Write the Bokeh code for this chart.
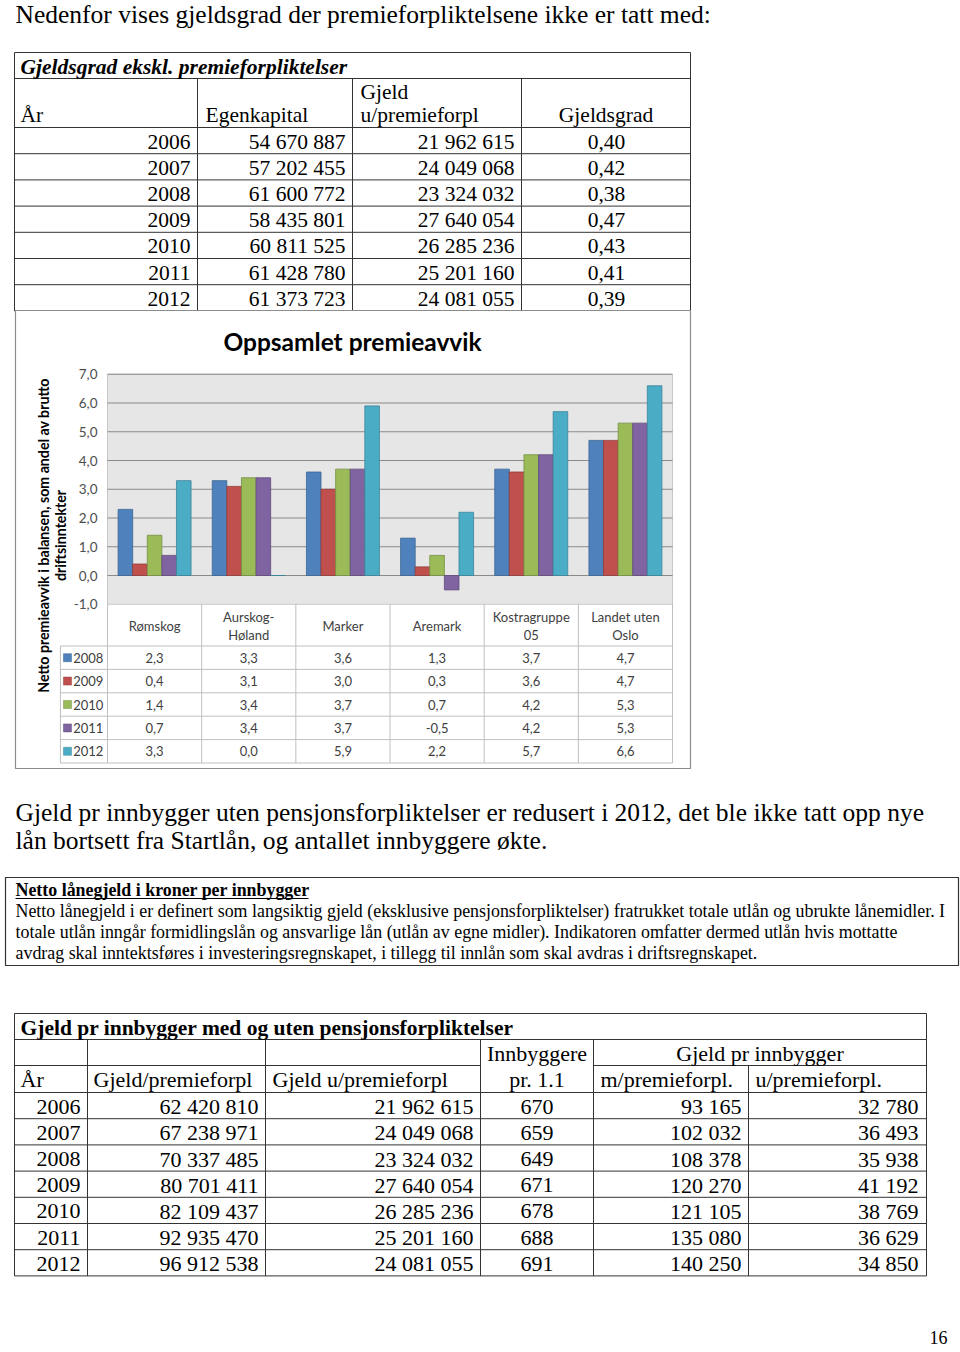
import math
from bokeh.plotting import figure
from bokeh.models import Range1d, ColumnDataSource
from bokeh.core.properties import value
from bokeh.embed import file_html
from bokeh.resources import INLINE

# ---------------- data ----------------
intro_text = "Nedenfor vises gjeldsgrad der premieforpliktelsene ikke er tatt med:"

t1_title = "Gjeldsgrad ekskl. premieforpliktelser"
t1_years = [2006, 2007, 2008, 2009, 2010, 2011, 2012]
t1_egenkapital = [54670887, 57202455, 61600772, 58435801, 60811525, 61428780, 61373723]
t1_gjeld = [21962615, 24049068, 23324032, 27640054, 26285236, 25201160, 24081055]
t1_gjeldsgrad = [0.40, 0.42, 0.38, 0.47, 0.43, 0.41, 0.39]

chart_title = "Oppsamlet premieavvik"
y_title_lines = ["Netto premieavvik i balansen, som andel av brutto", "driftsinntekter"]
categories = ["Rømskog", "Aurskog-Høland", "Marker", "Aremark", "Kostragruppe 05", "Landet uten Oslo"]
cat_line1 = ["Rømskog", "Aurskog-", "Marker", "Aremark", "Kostragruppe", "Landet uten"]
cat_line2 = ["", "Høland", "", "", "05", "Oslo"]
series_names = ["2008", "2009", "2010", "2011", "2012"]
v2008 = [2.3, 3.3, 3.6, 1.3, 3.7, 4.7]
v2009 = [0.4, 3.1, 3.0, 0.3, 3.6, 4.7]
v2010 = [1.4, 3.4, 3.7, 0.7, 4.2, 5.3]
v2011 = [0.7, 3.4, 3.7, -0.5, 4.2, 5.3]
v2012 = [3.3, 0.0, 5.9, 2.2, 5.7, 6.6]
y_ticks = [-1, 0, 1, 2, 3, 4, 5, 6, 7]
series_colors = ["#4F81BD", "#C0504D", "#9BBB59", "#8064A2", "#4BACC6"]
series_edges = ["#3A6493", "#923B39", "#758F43", "#5F4A7A", "#3A8499"]

para_lines = [
    "Gjeld pr innbygger uten pensjonsforpliktelser er redusert i 2012, det ble ikke tatt opp nye",
    "lån bortsett fra Startlån, og antallet innbyggere økte.",
]
box_title = "Netto lånegjeld i kroner per innbygger"
box_lines = [
    "Netto lånegjeld i er definert som langsiktig gjeld (eksklusive pensjonsforpliktelser) fratrukket totale utlån og ubrukte lånemidler. I",
    "totale utlån inngår formidlingslån og ansvarlige lån (utlån av egne midler). Indikatoren omfatter dermed utlån hvis mottatte",
    "avdrag skal inntektsføres i investeringsregnskapet, i tillegg til innlån som skal avdras i driftsregnskapet.",
]

t2_title = "Gjeld pr innbygger med og uten pensjonsforpliktelser"
t2_years = [2006, 2007, 2008, 2009, 2010, 2011, 2012]
t2_gjeld_m = [62420810, 67238971, 70337485, 80701411, 82109437, 92935470, 96912538]
t2_gjeld_u = [21962615, 24049068, 23324032, 27640054, 26285236, 25201160, 24081055]
t2_innb = [670, 659, 649, 671, 678, 688, 691]
t2_per_m = [93165, 102032, 108378, 120270, 121105, 135080, 140250]
t2_per_u = [32780, 36493, 35938, 41192, 38769, 36629, 34850]
page_number = "16"


def nok(v):
    return f"{v:,}".replace(",", " ")


def dec(v, n):
    s = f"{v:.{n}f}".replace(".", ",")
    return "0,0" if s == "-0,0" else s


# ---------------- figure (page coordinates) ----------------
W, H = 960, 1352
p = figure(width=W, height=H, x_range=Range1d(0, W), y_range=Range1d(H, 0),
           x_axis_location=None, y_axis_location=None, min_border=0,
           toolbar_location=None, output_backend="svg", outline_line_color=None,
           background_fill_color="white", border_fill_color="white")
p.grid.visible = False

SERIF = "Liberation Serif"
SANS = "Lato"


def txt(x, y, texts, size, font=SERIF, align="left", style="normal", color="#000000",
        angle=0.0, xr="default", yr="default"):
    src = ColumnDataSource(dict(x=list(x), y=list(y), t=list(texts)))
    p.text(x="x", y="y", text="t", source=src, text_font=value(font),
           text_font_size=f"{size}px", text_align=align, text_baseline="middle",
           text_font_style=style, text_color=color, angle=angle,
           x_range_name=xr, y_range_name=yr)


def hlines(y, x0, x1, color="#333333", width=1.0, xr="default", yr="default"):
    p.segment(x0=list(x0), y0=list(y), x1=list(x1), y1=list(y), line_color=color,
              line_width=width, x_range_name=xr, y_range_name=yr)


def vlines(x, y0, y1, color="#333333", width=1.0, xr="default", yr="default"):
    p.segment(x0=list(x), y0=list(y0), x1=list(x), y1=list(y1), line_color=color,
              line_width=width, x_range_name=xr, y_range_name=yr)


# ---- intro line ----
txt([15], [14], [intro_text], 25.5)

# ---- table 1 ----
c1 = [14, 197, 352, 521, 690]
t1_top, t1_tb, t1_hb, rh = 52, 78, 127, 26.2
n1 = len(t1_years)
row_b = [t1_hb + (i + 1) * rh for i in range(n1)]
t1_bot = row_b[-1]
hl_y = [t1_top, t1_tb, t1_hb] + row_b
hlines(hl_y, [c1[0]] * len(hl_y), [c1[-1]] * len(hl_y))
vlines([c1[0], c1[-1]], [t1_top] * 2, [t1_bot] * 2)
vlines(c1[1:-1], [t1_tb] * 3, [t1_bot] * 3)
txt([20], [(t1_top + t1_tb) / 2 + 1], [t1_title], 21.5, style="bold italic")
txt([20, 205, 360, 360], [114, 114, 91, 114], ["År", "Egenkapital", "Gjeld", "u/premieforpl"], 21.5)
txt([(c1[3] + c1[4]) / 2], [114], ["Gjeldsgrad"], 21.5, align="center")
ry1 = [t1_hb + (i + 0.5) * rh + 1 for i in range(n1)]
txt([190] * n1, ry1, [str(y) for y in t1_years], 21.5, align="right")
txt([345] * n1, ry1, [nok(v) for v in t1_egenkapital], 21.5, align="right")
txt([514] * n1, ry1, [nok(v) for v in t1_gjeld], 21.5, align="right")
txt([606] * n1, ry1, [dec(v, 2) for v in t1_gjeldsgrad], 21.5, align="center")

# ---- chart ----
box_l, box_r, box_t, box_b = 15, 690, 310, 768
pa_l, pa_r = 107, 672
px_per_val = 28.75
y_zero = 575
ncat = len(categories)
s = (pa_r - pa_l) / ncat
cx_start = -0.5 - pa_l / s
p.extra_x_ranges = {"cx": Range1d(cx_start, cx_start + W / s)}
p.extra_y_ranges = {"cy": Range1d((y_zero - H) / px_per_val, y_zero / px_per_val)}

# chart box
p.quad(left=[box_l], right=[box_r], top=[box_t], bottom=[box_b], fill_color="white",
       line_color="#8c8c8c", line_width=1.2)
txt([352], [341], [chart_title], 24.5, font=SANS, style="bold", align="center")

# plot area
ymin, ymax = min(y_ticks), max(y_ticks)
p.quad(left=[-0.5], right=[ncat - 0.5], bottom=[ymin], top=[ymax], fill_color="#e6e6e6",
       line_color="#c8c8c8", line_width=1, x_range_name="cx", y_range_name="cy")
grid_ticks = [t for t in y_ticks if t > ymin]
hlines(grid_ticks, [-0.5] * len(grid_ticks), [ncat - 0.5] * len(grid_ticks), color="#8a8a8a",
       xr="cx", yr="cy")

# bars
series = [v2008, v2009, v2010, v2011, v2012]
bw = 0.155
for j, vals in enumerate(series):
    xs = [i + (j - (len(series) - 1) / 2) * bw for i in range(ncat)]
    src = ColumnDataSource(dict(x=xs, top=vals, bottom=[0] * ncat))
    p.vbar(x="x", top="top", bottom="bottom", width=bw, source=src,
           fill_color=series_colors[j], line_color=series_edges[j], line_width=0.8,
           x_range_name="cx", y_range_name="cy")

# y tick labels
txt([97] * len(y_ticks), y_ticks, [dec(t, 1) for t in y_ticks], 13.5, font=SANS,
    align="right", color="#4d4d4d", yr="cy")

# y axis title (rotated)
txt([43, 60], [535, 535], y_title_lines, 14.2, font=SANS, style="bold", align="center",
    angle=math.pi / 2)

# data table under the chart
tb_top = y_zero - ymin * px_per_val  # bottom of plot area
tb_hb = 645.5
trh = 23.4
tr_b = [tb_hb + (k + 1) * trh for k in range(len(series))]
tb_bot = tr_b[-1]
leg_l = -1.0
gcol = "#bfbfbf"
bounds = [i - 0.5 for i in range(ncat + 1)]
vlines(bounds, [tb_top] * len(bounds), [tb_bot] * len(bounds), color=gcol, xr="cx")
vlines([leg_l], [tb_hb], [tb_bot], color=gcol, xr="cx")
hlines([tb_hb] + tr_b, [leg_l] * (len(tr_b) + 1), [ncat - 0.5] * (len(tr_b) + 1), color=gcol, xr="cx")

cat_x = list(range(ncat))
one = [i for i in range(ncat) if cat_line2[i] == ""]
two = [i for i in range(ncat) if cat_line2[i] != ""]
txt(one, [625] * len(one), [cat_line1[i] for i in one], 13, font=SANS, align="center",
    color="#404040", xr="cx")
txt(two, [616] * len(two), [cat_line1[i] for i in two], 13, font=SANS, align="center",
    color="#404040", xr="cx")
txt(two, [634] * len(two), [cat_line2[i] for i in two], 13, font=SANS, align="center",
    color="#404040", xr="cx")

row_c = [tb_hb + (k + 0.5) * trh for k in range(len(series))]
p.scatter(x=[leg_l + 0.075] * len(series), y=row_c, marker="square", size=8,
          fill_color=series_colors, line_color=series_edges, line_width=0.5, x_range_name="cx")
txt([leg_l + 0.135] * len(series), row_c, series_names, 13, font=SANS, color="#404040", xr="cx")
for k, vals in enumerate(series):
    txt(cat_x, [row_c[k]] * ncat, [dec(v, 1) for v in vals], 13, font=SANS, align="center",
        color="#404040", xr="cx")

# ---- paragraph ----
txt([15, 15], [812, 840], para_lines, 25.5)

# ---- definition box ----
p.quad(left=[5], right=[958], top=[877], bottom=[965], fill_color=None,
       line_color="#333333", line_width=1.2)
txt([15], [889], [box_title], 17.9, style="bold")
hlines([898], [15], [308], color="#000000", width=1)
txt([15, 15, 15], [910.5, 931.5, 952], box_lines, 17.9)

# ---- table 2 ----
c2 = [14, 87, 265, 480, 593, 748, 926]
t2_top, t2_tb, t2_h1, t2_h2 = 1013, 1039, 1065, 1092
n2 = len(t2_years)
row_b2 = [t2_h2 + (i + 1) * rh for i in range(n2)]
t2_bot = row_b2[-1]
full = [t2_top, t2_tb, t2_h2] + row_b2
hlines(full, [c2[0]] * len(full), [c2[-1]] * len(full))
hlines([t2_h1, t2_h1], [c2[0], c2[4]], [c2[3], c2[-1]])
vlines([c2[0], c2[-1]], [t2_top] * 2, [t2_bot] * 2)
vlines(c2[1:5], [t2_tb] * 4, [t2_bot] * 4)
vlines([c2[5]], [t2_h1], [t2_bot])
txt([20], [(t2_top + t2_tb) / 2 + 1], [t2_title], 21.5, style="bold")
txt([(c2[3] + c2[4]) / 2, (c2[4] + c2[6]) / 2], [1053, 1053], ["Innbyggere", "Gjeld pr innbygger"], 22, align="center")
txt([20, 93, 272, 600, 755], [1079] * 5,
    ["År", "Gjeld/premieforpl", "Gjeld  u/premieforpl", "m/premieforpl.", "u/premieforpl."], 22)
txt([(c2[3] + c2[4]) / 2], [1079], ["pr. 1.1"], 22, align="center")
ry2 = [t2_h2 + (i + 0.5) * rh + 1 for i in range(n2)]
txt([80] * n2, ry2, [str(y) for y in t2_years], 22, align="right")
txt([258] * n2, ry2, [nok(v) for v in t2_gjeld_m], 22, align="right")
txt([473] * n2, ry2, [nok(v) for v in t2_gjeld_u], 22, align="right")
txt([(c2[3] + c2[4]) / 2] * n2, ry2, [str(v) for v in t2_innb], 22, align="center")
txt([741] * n2, ry2, [nok(v) for v in t2_per_m], 22, align="right")
txt([918] * n2, ry2, [nok(v) for v in t2_per_u], 22, align="right")

# ---- page number ----
txt([938], [1337], [page_number], 18, align="center")

open("out.html", "w").write(file_html(p, INLINE))
